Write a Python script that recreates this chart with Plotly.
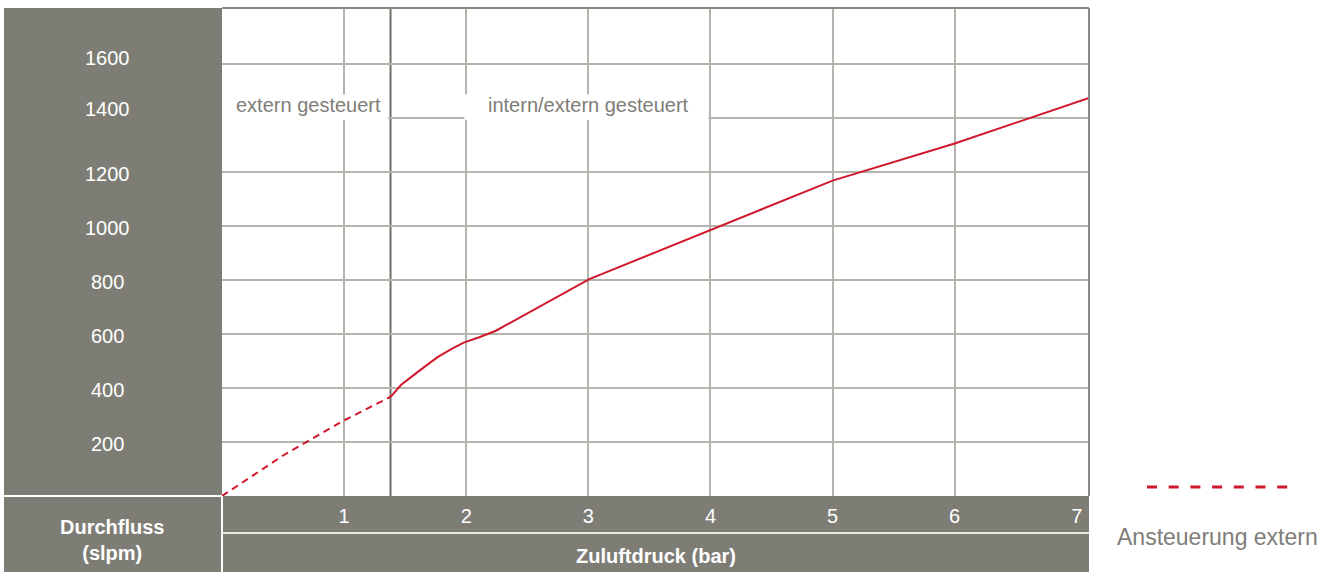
import plotly.graph_objects as go

# ---- data ----
dashed_x = [0, 0.5, 1.0, 1.383]
dashed_y = [0, 150, 280, 368]
solid_x = [1.383, 1.465, 1.588, 1.765, 1.888, 1.984, 2.107, 2.243, 3.008, 4.0, 5.0, 6.0, 7.1]
solid_y = [368, 411, 454, 514, 547, 569, 588, 612, 803, 985, 1168, 1305, 1474]
x_ticks = [1, 2, 3, 4, 5, 6, 7]
x_grid = [1, 2, 3, 4, 5, 6]
y_ticks = [200, 400, 600, 800, 1000, 1200, 1400, 1600]
separator_x = 1.38
region_labels = ["extern gesteuert", "intern/extern gesteuert"]
y_title = "<b>Durchfluss</b><br><b>(slpm)</b>"
x_title = "<b>Zuluftdruck (bar)</b>"
legend_label = "Ansteuerung extern"

GRAY = "#7e7d75"
GRID = "#b4b3ac"
BORDER = "#8c8b83"
SEP = "#6d6c66"
RED = "#d0182c"
TXT = "#7e7d77"
FONT = "Liberation Sans, Arial, sans-serif"
# small vertical nudges of y labels (style, in px)
LABEL_NUDGE = {1600: 6, 1400: 9}

W, H = 1332, 572
L, R, T, B = 222, 243, 8, 76
pw, ph = W - L - R, H - T - B


def px(xp):
    return (xp - L) / pw


def py(yp):
    return (H - B - yp) / ph


fig = go.Figure()
fig.add_trace(go.Scatter(x=dashed_x, y=dashed_y, mode="lines",
                         line=dict(color=RED, width=2, dash="7px,5px"),
                         showlegend=False, name=legend_label))
fig.add_trace(go.Scatter(x=solid_x, y=solid_y, mode="lines",
                         line=dict(color=RED, width=2),
                         showlegend=False))

shapes = []
# left gray panel
shapes.append(dict(type="rect", xref="paper", yref="paper", x0=px(4), x1=0,
                   y0=py(H + 5), y1=1, fillcolor=GRAY, line=dict(width=0), layer="below"))
# bottom gray band
shapes.append(dict(type="rect", xref="paper", yref="paper", x0=0, x1=1,
                   y0=py(H + 5), y1=0, fillcolor=GRAY, line=dict(width=0), layer="below"))
# white separators
shapes.append(dict(type="line", xref="paper", yref="paper", x0=px(4), x1=0, y0=0, y1=0,
                   line=dict(color="white", width=2)))
shapes.append(dict(type="line", xref="paper", yref="paper", x0=0, x1=0, y0=py(H + 5), y1=0,
                   line=dict(color="white", width=2)))
shapes.append(dict(type="line", xref="paper", yref="paper", x0=0, x1=1, y0=py(533), y1=py(533),
                   line=dict(color="#e8e7e2", width=2)))
# separator vertical line
shapes.append(dict(type="line", xref="x", yref="paper", x0=separator_x, x1=separator_x, y0=0, y1=1,
                   line=dict(color=SEP, width=2), layer="between"))
# label boxes
shapes.append(dict(type="rect", xref="x", yref="y", x0=0, x1=separator_x - 0.02, y0=1392, y1=1487,
                   fillcolor="white", line=dict(width=0), layer="between"))
shapes.append(dict(type="rect", xref="x", yref="y", x0=1.985, x1=3.985, y0=1392, y1=1487,
                   fillcolor="white", line=dict(width=0), layer="between"))
# plot border (top/right)
shapes.append(dict(type="line", xref="paper", yref="paper", x0=0, x1=1, y0=1, y1=1,
                   line=dict(color=BORDER, width=2), layer="above"))
shapes.append(dict(type="line", xref="paper", yref="paper", x0=1, x1=1, y0=0, y1=1,
                   line=dict(color=BORDER, width=2), layer="above"))
# legend sample
shapes.append(dict(type="line", xref="paper", yref="paper", x0=px(1147), x1=px(1289),
                   y0=py(487), y1=py(487), line=dict(color=RED, width=3, dash="10px,11.7px")))

annotations = []
for v in y_ticks:
    annotations.append(dict(x=px(107), xref="paper", y=v, yref="y", text=str(v),
                            showarrow=False, xanchor="center", yanchor="middle",
                            yshift=LABEL_NUDGE.get(v, -2),
                            font=dict(family=FONT, size=20, color="white")))
annotations.append(dict(x=0.098, xref="x", y=1448, yref="y", text=region_labels[0],
                        showarrow=False, xanchor="left", yanchor="middle",
                        font=dict(family=FONT, size=20, color=TXT)))
annotations.append(dict(x=3.0, xref="x", y=1448, yref="y", text=region_labels[1],
                        showarrow=False, xanchor="center", yanchor="middle",
                        font=dict(family=FONT, size=20, color=TXT)))
annotations.append(dict(x=px(112), xref="paper", y=py(540), yref="paper", text=y_title,
                        showarrow=False, xanchor="center", yanchor="middle",
                        font=dict(family=FONT, size=20, color="white")))
annotations.append(dict(x=0.5, xref="paper", y=py(556), yref="paper", text=x_title,
                        showarrow=False, xanchor="center", yanchor="middle",
                        font=dict(family=FONT, size=20, color="white")))
annotations.append(dict(x=px(1217), xref="paper", y=py(537), yref="paper", text=legend_label,
                        showarrow=False, xanchor="center", yanchor="middle",
                        font=dict(family=FONT, size=23, color=TXT)))

fig.update_layout(
    width=W, height=H,
    margin=dict(l=L, r=R, t=T, b=B, pad=0),
    paper_bgcolor="white", plot_bgcolor="white",
    showlegend=False,
    shapes=shapes, annotations=annotations,
    xaxis=dict(range=[0, 7.1], tickmode="array", tickvals=x_ticks,
               ticktext=[str(v) for v in x_ticks], showgrid=False, zeroline=False,
               showline=False, ticks="", ticklabelstandoff=6,
               tickfont=dict(family=FONT, size=20, color="white"),
               minor=dict(tickmode="array", tickvals=x_grid, showgrid=True,
                          gridcolor=GRID, gridwidth=2, ticks=""),
               fixedrange=True),
    yaxis=dict(range=[0, 1807], tickmode="array", tickvals=y_ticks, showticklabels=False,
               showgrid=True, gridcolor=GRID, gridwidth=2, zeroline=False, showline=False,
               ticks="", fixedrange=True),
)

fig.write_html("out.html", config={"displayModeBar": False},
               post_script="document.body.style.margin='0';document.body.style.overflow='hidden';")
